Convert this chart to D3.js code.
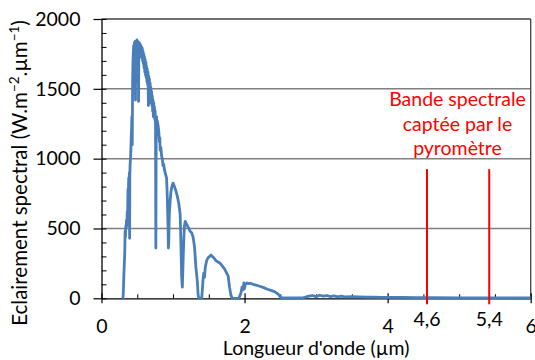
<!DOCTYPE html>
<html><head><meta charset="utf-8">
<script src="https://cdn.jsdelivr.net/npm/d3@7"></script>
<style>
html,body{margin:0;padding:0;background:#fff;}
svg{display:block;font-family:Lato,"Open Sans",sans-serif;}
</style></head>
<body><svg id="c" width="535" height="360"></svg>
<script>
// ---- data ----
const wavelengths = [0.295,0.300,0.305,0.310,0.315,0.320,0.325,0.330,0.335,0.340,0.345,0.350,0.355,0.360,0.365,0.370,0.375,0.380,0.385,0.390,0.393,0.396,0.400,0.405,0.410,0.415,0.420,0.425,0.430,0.435,0.440,0.445,0.450,0.455,0.460,0.465,0.470,0.475,0.478,0.485,0.486,0.490,0.495,0.500,0.505,0.510,0.515,0.518,0.522,0.530,0.535,0.540,0.545,0.550,0.555,0.560,0.565,0.570,0.575,0.580,0.585,0.590,0.595,0.600,0.605,0.610,0.615,0.620,0.625,0.630,0.635,0.640,0.645,0.650,0.656,0.660,0.665,0.670,0.675,0.680,0.687,0.690,0.695,0.700,0.705,0.710,0.715,0.720,0.725,0.730,0.735,0.740,0.745,0.750,0.755,0.760,0.765,0.770,0.775,0.780,0.790,0.800,0.810,0.815,0.820,0.830,0.840,0.850,0.860,0.870,0.880,0.890,0.900,0.910,0.920,0.930,0.935,0.940,0.945,0.950,0.960,0.970,0.980,0.990,1.000,1.020,1.040,1.060,1.080,1.100,1.110,1.120,1.130,1.140,1.150,1.160,1.170,1.180,1.200,1.220,1.240,1.260,1.280,1.300,1.320,1.340,1.350,1.360,1.400,1.410,1.420,1.430,1.440,1.450,1.470,1.490,1.510,1.530,1.550,1.570,1.600,1.630,1.660,1.690,1.720,1.750,1.770,1.790,1.810,1.830,1.920,1.950,1.965,1.980,1.990,2.000,2.010,2.035,2.060,2.080,2.120,2.160,2.200,2.260,2.320,2.380,2.430,2.470,2.500,2.520,2.800,2.850,2.900,2.950,3.000,3.050,3.100,3.150,3.200,3.250,3.300,3.350,3.400,3.500,3.600,3.700,3.800,3.900,4.000,4.200,4.400,4.600,5.000,5.500,6.000];
const irradiance = [0,0,40,120,200,260,330,480,440,520,500,560,520,620,600,780,740,860,820,900,430,880,960,1000,1050,1150,1200,1300,1100,1550,1700,1760,1810,1780,1830,1800,1840,1420,1780,1820,1550,1800,1850,1830,1810,1840,1760,1410,1780,1830,1740,1820,1750,1810,1730,1800,1720,1790,1700,1770,1680,1750,1650,1730,1620,1710,1600,1690,1580,1660,1550,1640,1530,1620,1380,1590,1490,1570,1460,1540,1400,1510,1420,1480,1380,1450,1340,1420,1300,1400,1310,1370,1280,1340,1250,360,1230,1300,1200,1270,1240,1200,1120,1150,1060,1080,1020,1000,950,960,920,900,880,860,720,520,360,400,550,620,700,760,790,810,825,800,770,730,680,600,400,160,80,250,420,520,550,540,520,500,480,470,440,370,220,120,30,0,0,60,140,180,150,220,270,290,300,310,300,290,270,260,250,230,210,180,160,80,20,0,0,40,80,60,110,70,100,110,105,108,100,95,88,78,65,55,45,30,10,2,2,8,15,20,12,22,15,20,12,18,10,15,10,12,10,8,9,7,7,6,5,4,3,3,2];
const xTickValues = [0,2,4,6];
const xTickLabels = ["0","2","4","6"];
const yTickValues = [0,500,1000,1500,2000];
const yTickLabels = ["0","500","1000","1500","2000"];
const markerPositions = [4.55,5.42];
const markerLabels = ["4,6","5,4"];
const markerTopValue = 925;
const noteLines = ["Bande spectrale","captée par le","pyromètre"];
const xTitle = "Longueur d'onde (µm)";

// ---- layout ----
const L=101.5, R=530.7, T=19, B=298.3;
const svg=d3.select("#c");
const x=d3.scaleLinear().domain([0,6]).range([L,R]);
const y=d3.scaleLinear().domain([0,2000]).range([B,T]);
const FONT=19.5;

// gridlines (500,1000,1500)
svg.append("g").selectAll("line").data(yTickValues.filter(v=>v>0&&v<2000)).join("line")
  .attr("x1",L).attr("x2",R).attr("y1",d=>y(d)).attr("y2",d=>y(d))
  .attr("stroke","#808080").attr("stroke-width",1.5);
// frame top/right
svg.append("line").attr("x1",L).attr("x2",R).attr("y1",y(2000)).attr("y2",y(2000)).attr("stroke","#404040").attr("stroke-width",1.3);
svg.append("line").attr("x1",R).attr("x2",R).attr("y1",T).attr("y2",B).attr("stroke","#404040").attr("stroke-width",1.3);

// y axis major (outside) and minor (inside)
const yMinor=d3.range(0,2001,100);
const yAx=svg.append("g").attr("transform",`translate(${L},0)`)
  .call(d3.axisLeft(y).tickValues(yTickValues).tickFormat((d,i)=>yTickLabels[i]).tickSizeOuter(0).tickSizeInner(8).tickPadding(13));
yAx.select(".domain").attr("stroke","#000").attr("stroke-width",1.3);
yAx.selectAll(".tick line").attr("stroke","#000").attr("stroke-width",1.2);
yAx.selectAll("text").attr("font-size",FONT).attr("font-family","Lato").attr("fill","#000");
svg.append("g").attr("transform",`translate(${L},0)`)
  .call(d3.axisRight(y).tickValues(yMinor).tickFormat("").tickSizeOuter(0).tickSizeInner(5))
  .call(g=>{g.select(".domain").remove();g.selectAll("line").attr("stroke","#000").attr("stroke-width",1);});

// x axis
const xMinor=d3.range(0,6.01,0.5).filter(v=>xTickValues.indexOf(v)<0);
const xAx=svg.append("g").attr("transform",`translate(0,${B})`)
  .call(d3.axisBottom(x).tickValues(xTickValues).tickFormat((d,i)=>xTickLabels[i]).tickSizeOuter(0).tickSizeInner(5).tickPadding(16));
xAx.select(".domain").attr("stroke","#000").attr("stroke-width",1.3);
xAx.selectAll(".tick line").attr("y1",-5).attr("stroke","#000").attr("stroke-width",1.2);
xAx.selectAll("text").attr("font-size",FONT).attr("font-family","Lato").attr("fill","#000");
svg.append("g").attr("transform",`translate(0,${B})`)
  .call(d3.axisTop(x).tickValues(xMinor).tickFormat("").tickSizeOuter(0).tickSizeInner(4))
  .call(g=>{g.select(".domain").remove();g.selectAll("line").attr("stroke","#000").attr("stroke-width",1);});

// spectrum
const pts=wavelengths.map((w,i)=>[w,irradiance[i]]);
svg.append("path").datum(pts)
  .attr("d",d3.line().x(d=>x(d[0])).y(d=>y(d[1])))
  .attr("fill","none").attr("stroke","#4a7ebb").attr("stroke-width",2.8).attr("stroke-linejoin","round");

// pyrometer band markers
svg.append("g").selectAll("line").data(markerPositions).join("line")
  .attr("x1",d=>x(d)).attr("x2",d=>x(d)).attr("y1",y(markerTopValue)).attr("y2",B+6)
  .attr("stroke","#ff0000").attr("stroke-width",2);
svg.append("g").selectAll("text").data(markerPositions).join("text")
  .attr("x",d=>x(d)).attr("y",326).attr("text-anchor","middle")
  .attr("font-size",FONT).attr("fill","#000").text((d,i)=>markerLabels[i]);

// note
svg.append("g").selectAll("text").data(noteLines).join("text")
  .attr("x",457.5).attr("y",(d,i)=>106+i*24.5).attr("text-anchor","middle")
  .attr("font-size",FONT).attr("fill","#ff0000").text(d=>d);

// titles
svg.append("text").attr("x",(L+R)/2).attr("y",355).attr("text-anchor","middle")
  .attr("font-size",FONT).attr("fill","#000").text(xTitle);
const yt=svg.append("text").attr("transform","translate(27,173) rotate(-90)").attr("text-anchor","middle")
  .attr("font-size",20.5).attr("fill","#000");
yt.append("tspan").text("Eclairement spectral (W.m");
yt.append("tspan").attr("font-size",13.5).attr("dy",-8).text("−2");
yt.append("tspan").attr("dy",8).text(".µm");
yt.append("tspan").attr("font-size",13.5).attr("dy",-8).text("−1");
yt.append("tspan").attr("dy",8).text(")");
</script></body></html>
